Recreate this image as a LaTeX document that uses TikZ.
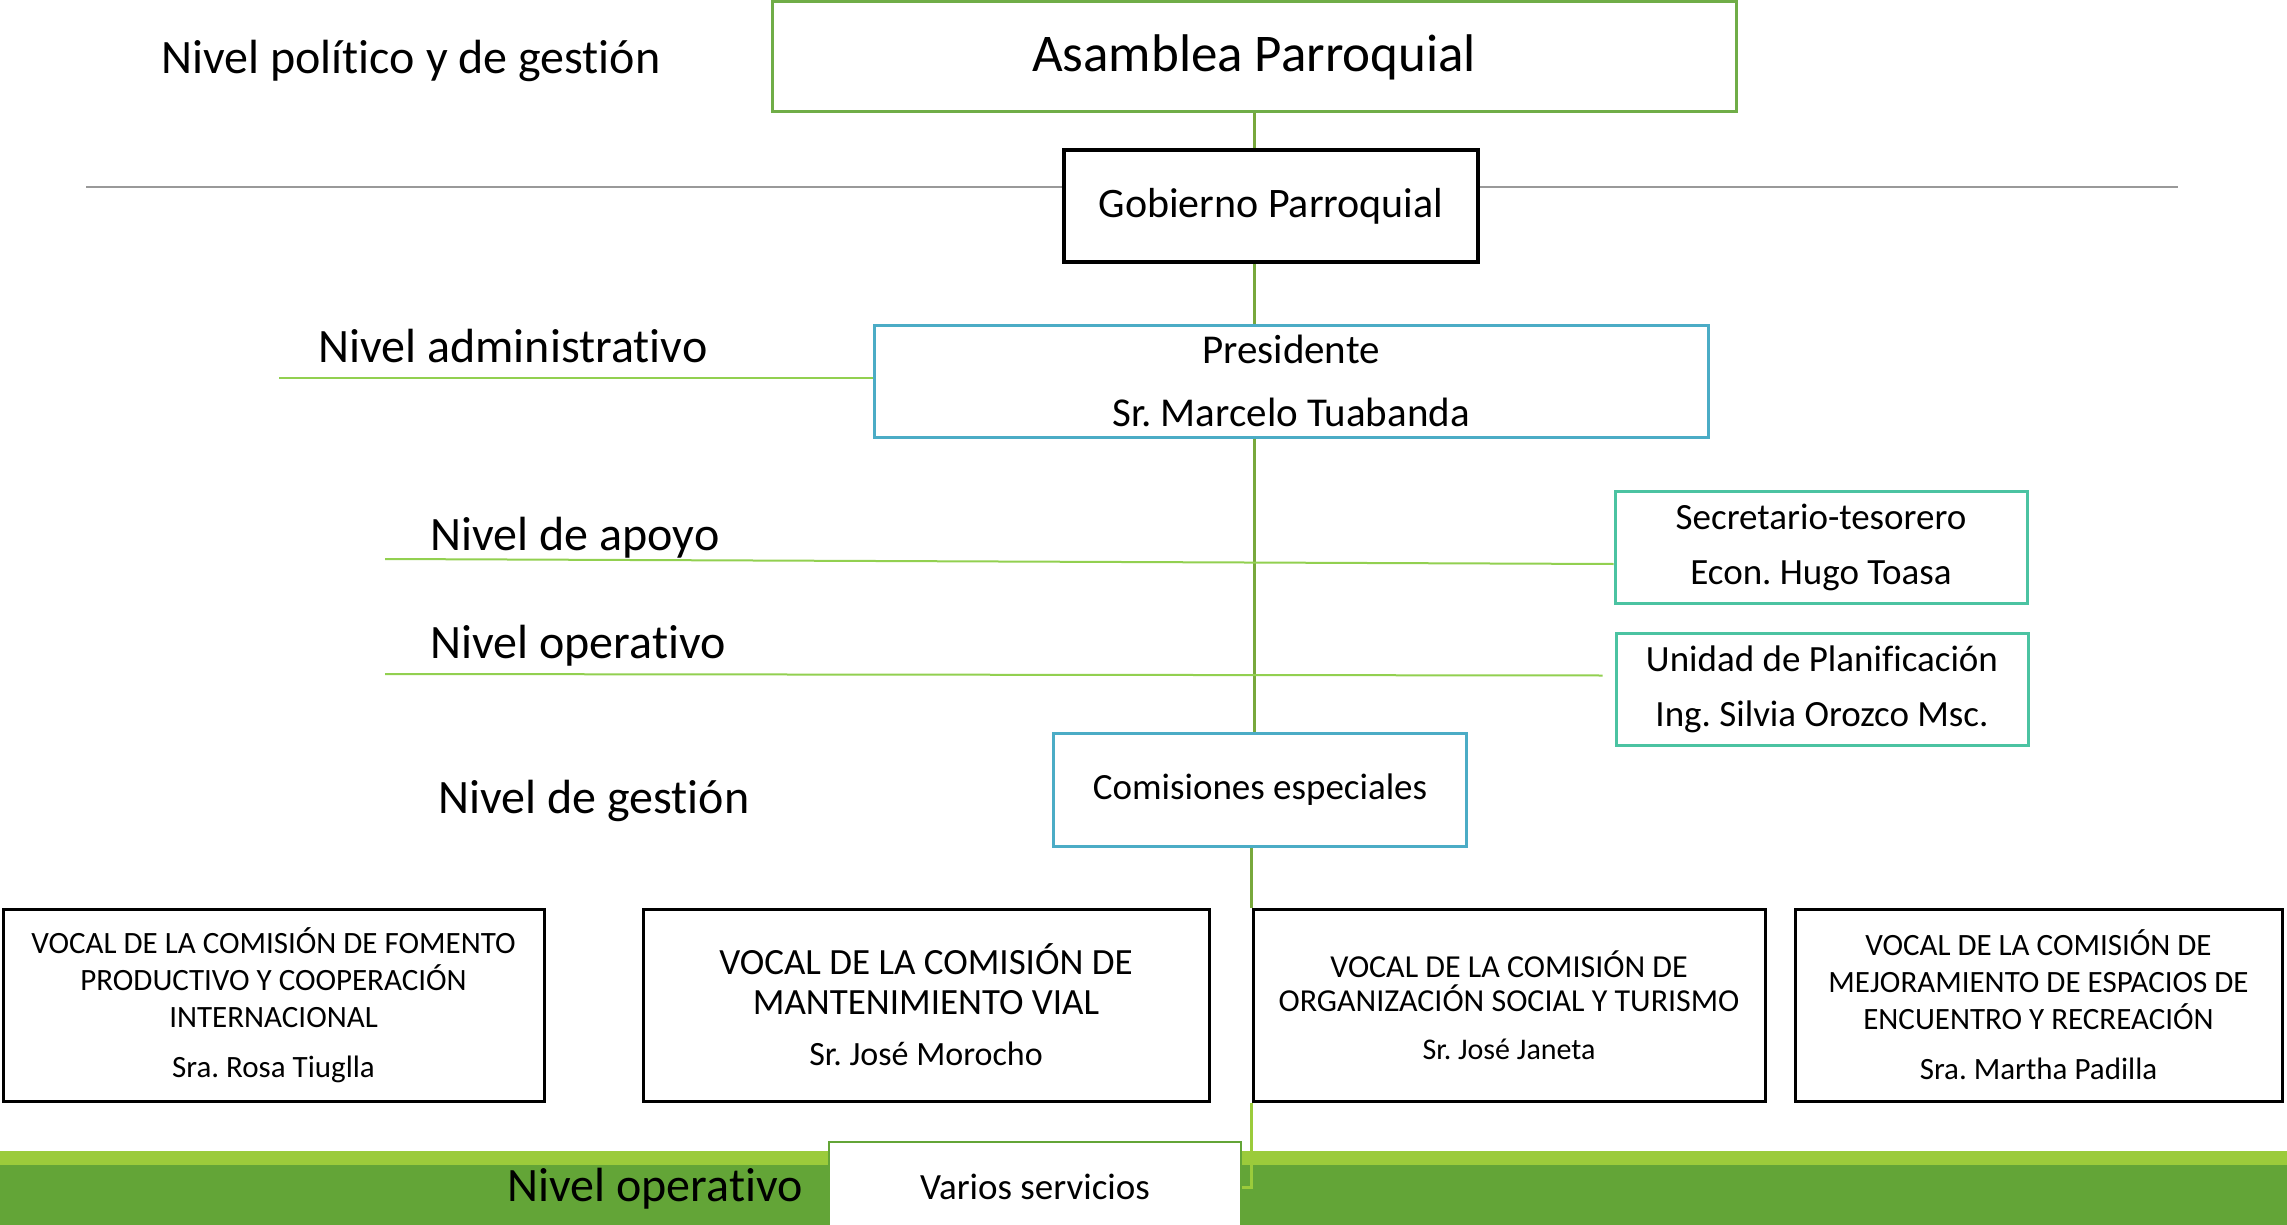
\documentclass[tikz,border=0pt]{standalone}
\usepackage{fontspec}
\setmainfont{Carlito}[Ligatures={NoCommon}]
\usetikzlibrary{positioning}
\frenchspacing
\definecolor{asamgreen}{HTML}{70AD47}
\definecolor{trunkgreen}{HTML}{78A83C}
\definecolor{lvlgreen}{HTML}{92D050}
\definecolor{barlight}{HTML}{9BCB3B}
\definecolor{bardark}{HTML}{63A537}
\definecolor{presblue}{HTML}{4BACC6}
\definecolor{apoyoteal}{HTML}{4BC3A2}
\tikzstyle{asambox} = [rectangle, draw=asamgreen, fill=white, line width=3pt, minimum width=964pt,
    minimum height=110pt, text centered, font=\fontsize{53}{60}\selectfont]
\tikzstyle{gobbox} = [rectangle, draw=black, fill=white, line width=4pt, minimum width=414pt,
    minimum height=112pt, text centered, font=\fontsize{42}{50}\selectfont]
\tikzstyle{bluebox} = [rectangle, draw=presblue, fill=white, line width=3pt, align=center]
\tikzstyle{tealbox} = [rectangle, draw=apoyoteal, fill=white, line width=3pt, minimum width=412pt,
    minimum height=112pt, align=center, font=\fontsize{37}{55}\selectfont]
\tikzstyle{vocal} = [rectangle, draw=black, fill=white, line width=3pt, minimum height=192pt, align=center]
\tikzstyle{level} = [font=\fontsize{48}{58}\selectfont]
\tikzstyle{trunk} = [draw=trunkgreen, line width=3pt]
\tikzstyle{levelline} = [draw=lvlgreen, line width=2pt]
\tikzstyle{hookline} = [draw=barlight, line width=3pt]

\begin{document}
\begin{tikzpicture}[x=1pt, y=-1pt]
    \useasboundingbox (0,0) rectangle (2287,1225);
    \fill[barlight] (0,1151) rectangle (2287,1165);
    \fill[bardark] (0,1165) rectangle (2287,1225);
    \draw[draw=black!40, line width=2pt] (86,187) -- (2178,187);

    \node (asam) [asambox] at (1254,57) {Asamblea Parroquial};
    \node (gob) [gobbox] at (1271,206) {Gobierno Parroquial};
    \node (pres) [bluebox, minimum width=834pt, minimum height=112pt, font=\fontsize{41}{63}\selectfont]
        at (1291,381) {Presidente\\Sr. Marcelo Tuabanda};
    \node (sec) [tealbox] at (1821,547) {Secretario-tesorero\\Econ. Hugo Toasa};
    \node (uni) [tealbox] at (1822,689) {Unidad de Planificación\\Ing. Silvia Orozco Msc.};
    \node (com) [bluebox, minimum width=413pt, minimum height=113pt, font=\fontsize{37}{44}\selectfont]
        at (1260,790) {Comisiones especiales};

    \node (v1) [vocal, minimum width=541pt, font=\fontsize{31}{37}\selectfont] at (273.5,1005)
        {VOCAL DE LA COMISIÓN DE FOMENTO\\PRODUCTIVO Y COOPERACIÓN\\INTERNACIONAL\\[13pt]Sra. Rosa Tiuglla};
    \node (v2) [vocal, minimum width=566pt, font=\fontsize{37}{40}\selectfont] at (926,1005)
        {VOCAL DE LA COMISIÓN DE\\MANTENIMIENTO VIAL\\[11pt]{\fontsize{34}{40}\selectfont Sr. José Morocho}};
    \node (v3) [vocal, minimum width=512pt, font=\fontsize{32}{34}\selectfont] at (1509,1005)
        {VOCAL DE LA COMISIÓN DE\\ORGANIZACIÓN SOCIAL Y TURISMO\\[14pt]{\fontsize{30}{34}\selectfont Sr. José Janeta}};
    \node (v4) [vocal, minimum width=487pt, font=\fontsize{31}{37}\selectfont] at (2038.5,1005)
        {VOCAL DE LA COMISIÓN DE\\MEJORAMIENTO DE ESPACIOS DE\\ENCUENTRO Y RECREACIÓN\\[13pt]Sra. Martha Padilla};

    \node (vs) [rectangle, draw=bardark, fill=white, line width=2pt, minimum width=412pt, minimum height=90pt,
        font=\fontsize{37}{44}\selectfont] at (1035,1187) {Varios servicios};

    \node (lpol) [level] at (411,61) {Nivel político y de gestión};
    \node (ladm) [level] at (513,346) {Nivel administrativo};
    \node (lapo) [level] at (575,538) {Nivel de apoyo};
    \node (lope) [level] at (578,646) {Nivel operativo};
    \node (lges) [level] at (594,801) {Nivel de gestión};
    \node (lopb) [level] at (655,1189) {Nivel operativo};

    \coordinate (admL) at (279,378);
    \coordinate (apoL) at (385,559);
    \coordinate (opeL) at (385,674);

    \draw [trunk] (asam.south) -- (asam.south |- gob.north);
    \draw [trunk] (asam.south |- gob.south) -- (asam.south |- pres.north);
    \draw [trunk] (asam.south |- pres.south) -- (asam.south |- com.north);
    \draw [trunk] (v3.north west |- com.south) -- (v3.north west);
    \draw [hookline] (v3.south west) |- (vs.east);
    \draw [levelline] (admL) -- (admL -| pres.west);
    \draw [levelline] (apoL) -- ([yshift=-17pt]sec.west);
    \draw [levelline] (opeL) -- ([xshift=-12pt, yshift=13.5pt]uni.west);
\end{tikzpicture}
\end{document}
